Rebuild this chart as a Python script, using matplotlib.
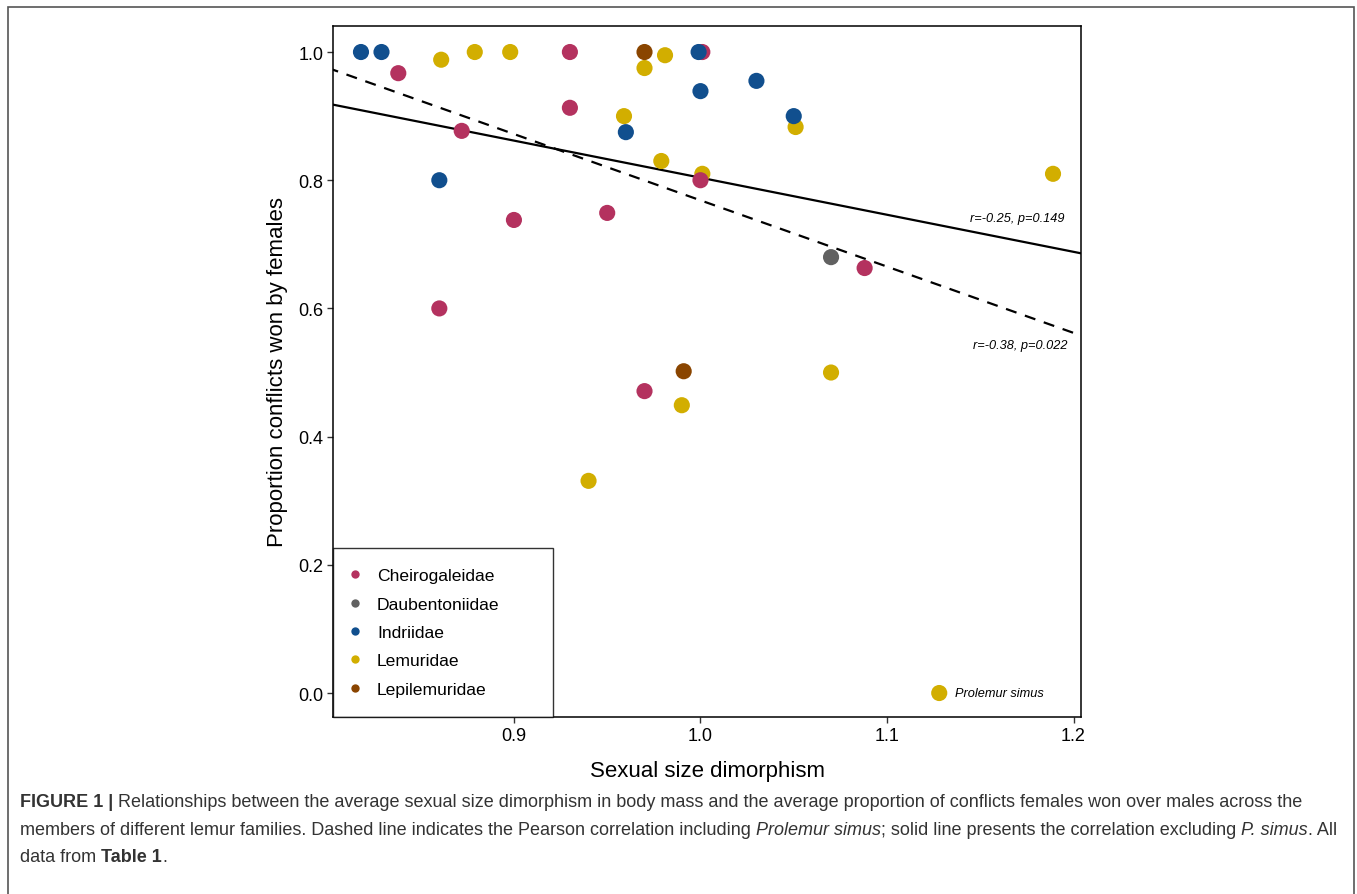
import numpy as np
import matplotlib.pyplot as plt
from matplotlib.lines import Line2D
from matplotlib.patches import Rectangle

plt.rcParams['font.family'] = ['Liberation Sans', 'DejaVu Sans']

families = ['Cheirogaleidae', 'Daubentoniidae', 'Indriidae', 'Lemuridae', 'Lepilemuridae']
colors = {'Cheirogaleidae': '#B4325F', 'Daubentoniidae': '#616161', 'Indriidae': '#114F8E',
          'Lemuridae': '#D2AE00', 'Lepilemuridae': '#8A4500'}

# sexual size dimorphism (x) and proportion of conflicts won by females (y)
cheiro_x = [0.838, 0.93, 0.93, 0.872, 0.90, 0.86, 0.95, 0.97, 1.0, 1.001, 1.088]
cheiro_y = [0.967, 1.0, 0.913, 0.877, 0.738, 0.60, 0.749, 0.471, 0.80, 1.0, 0.663]
daub_x = [1.07]
daub_y = [0.68]
indri_x = [0.818, 0.829, 0.86, 0.96, 0.999, 1.0, 1.03, 1.05]
indri_y = [1.0, 1.0, 0.80, 0.875, 1.0, 0.939, 0.955, 0.90]
lemur_x = [0.861, 0.879, 0.898, 0.97, 0.981, 0.959, 0.979, 1.001, 1.051, 1.189, 0.94, 0.99, 1.07]
lemur_y = [0.988, 1.0, 1.0, 0.975, 0.995, 0.90, 0.83, 0.81, 0.883, 0.81, 0.331, 0.449, 0.50]
lepil_x = [0.97, 0.991]
lepil_y = [1.0, 0.502]
# Prolemur simus (Lemuridae), labelled separately
simus_x = 1.128
simus_y = 0.0

fit_excl_label = 'r=-0.25, p=0.149'
fit_incl_label = 'r=-0.38, p=0.022'

caption = [
    [('FIGURE 1 | ', 'bold', 'normal'),
     ('Relationships between the average sexual size dimorphism in body mass and the average proportion of conflicts females won over males across the', 'normal', 'normal')],
    [('members of different lemur families. Dashed line indicates the Pearson correlation including ', 'normal', 'normal'),
     ('Prolemur simus', 'normal', 'italic'),
     ('; solid line presents the correlation excluding ', 'normal', 'normal'),
     ('P. simus', 'normal', 'italic'),
     ('. All', 'normal', 'normal')],
    [('data from ', 'normal', 'normal'), ('Table 1', 'bold', 'normal'), ('.', 'normal', 'normal')],
]

W, H = 1357, 895
fig = plt.figure(figsize=(W / 100, H / 100), dpi=100)
ax = fig.add_axes([333 / W, 1 - 718 / H, (1081 - 333) / W, (718 - 27) / H])

series = {'Cheirogaleidae': (cheiro_x, cheiro_y), 'Daubentoniidae': (daub_x, daub_y),
          'Indriidae': (indri_x, indri_y), 'Lemuridae': (lemur_x, lemur_y),
          'Lepilemuridae': (lepil_x, lepil_y)}
order = ['Lemuridae', 'Cheirogaleidae', 'Daubentoniidae', 'Lepilemuridae', 'Indriidae']
for i, fam in enumerate(order):
    xs, ys = series[fam]
    ax.scatter(xs, ys, s=135, color=colors[fam], edgecolors='none', zorder=3 + i * 0.1)
ax.scatter([simus_x], [simus_y], s=135, color=colors['Lemuridae'], edgecolors='none', zorder=3)

# correlation lines
all_x = np.array(cheiro_x + daub_x + indri_x + lemur_x + lepil_x)
all_y = np.array(cheiro_y + daub_y + indri_y + lemur_y + lepil_y)
k1, b1 = np.polyfit(all_x, all_y, 1)
k2, b2 = np.polyfit(np.append(all_x, simus_x), np.append(all_y, simus_y), 1)
xl = np.array([0.79, 1.22])
ax.plot(xl, k1 * xl + b1, color='black', lw=1.6, zorder=2)
ax.plot(xl, k2 * xl + b2, color='black', lw=1.6, ls=(0, (5, 4)), zorder=2)

ax.text(1.1949, 0.741, fit_excl_label, ha='right', va='center', fontsize=9.2, style='italic')
ax.text(1.1965, 0.543, fit_incl_label, ha='right', va='center', fontsize=9.2, style='italic')
ax.text(1.1365, simus_y, 'Prolemur simus', ha='left', va='center', fontsize=9.2, style='italic')

ax.set_xlim(0.803, 1.204)
ax.set_ylim(-0.0374, 1.0406)
ax.set_xticks([0.9, 1.0, 1.1, 1.2])
ax.set_yticks([0.0, 0.2, 0.4, 0.6, 0.8, 1.0])
ax.xaxis.set_major_formatter(plt.FormatStrFormatter('%.1f'))
ax.yaxis.set_major_formatter(plt.FormatStrFormatter('%.1f'))
ax.tick_params(direction='out', length=4, width=1, color='#333333', labelsize=13,
               labelcolor='black', pad=3)
for sp in ax.spines.values():
    sp.set_linewidth(1.1)
ax.set_xlabel('Sexual size dimorphism', fontsize=16, labelpad=12)
ax.set_ylabel('Proportion conflicts won by females', fontsize=16, labelpad=7)

handles = [Line2D([], [], marker='o', ls='none', ms=6, color=colors[f], markeredgewidth=0)
           for f in families]
leg = ax.legend(handles, families, loc='lower left', bbox_to_anchor=(0, 0, 220 / 748, 0.5),
                mode='expand', fontsize=12.6, frameon=True, fancybox=False,
                borderaxespad=0, borderpad=1.15, labelspacing=0.75, handletextpad=1.14,
                handlelength=0.23)
leg.get_frame().set_edgecolor('black')
leg.get_frame().set_linewidth(1.0)

# outer frame
fig.patches.append(Rectangle((8 / W, -0.02), (1354 - 8) / W, 1.02 - 8 / H, transform=fig.transFigure,
                             fill=False, edgecolor='#555555', lw=1.2))

# caption with mixed styles
renderer = fig.canvas.get_renderer()
line_y = [803, 831, 858]
for segs, py in zip(caption, line_y):
    x = 20 / W
    for txt, weight, style in segs:
        t = fig.text(x, 1 - py / H, txt, fontsize=13, fontweight=weight, style=style,
                     color='#333333', ha='left', va='center')
        bb = t.get_window_extent(renderer=renderer)
        x += bb.width / W

fig.savefig('out.png', dpi=100)
